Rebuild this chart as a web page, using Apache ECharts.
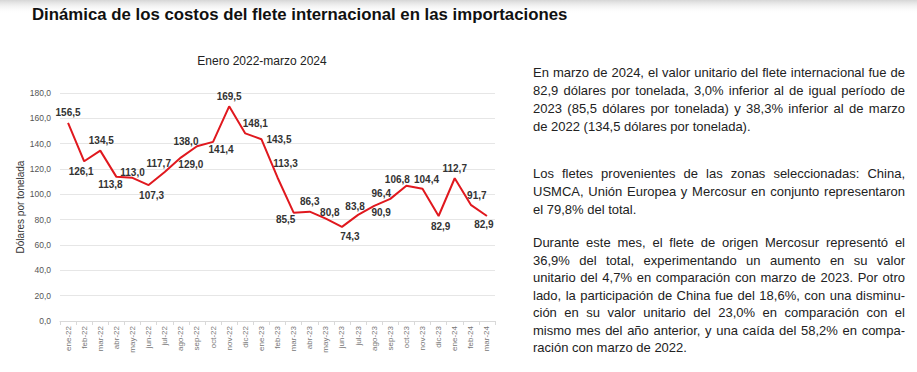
<!DOCTYPE html>
<html>
<head>
<meta charset="utf-8">
<script src="https://cdn.jsdelivr.net/npm/echarts@6/dist/echarts.min.js"></script>
<style>
  html, body { margin: 0; padding: 0; background: #fff; }
  #wrap { position: relative; width: 917px; height: 372px; overflow: hidden; }
  #chart { position: absolute; left: 0; top: 0; width: 917px; height: 372px; }
  #text { position: absolute; left: 533px; top: 64px; width: 372px;
          font-family: 'Liberation Sans', Arial, sans-serif; font-size: 13px; color: #222; }
  #text .l { white-space: nowrap; text-align: justify; text-align-last: justify; }
  #text .last { text-align-last: left; }
</style>
</head>
<body>
<div id="wrap">
  <div id="chart"></div>
  <div id="text"></div>
</div>
<script>
// ---- data ----
const months = ['ene-22','feb-22','mar-22','abr-22','may-22','jun-22','jul-22','ago-22','sep-22','oct-22','nov-22','dic-22',
                'ene-23','feb-23','mar-23','abr-23','may-23','jun-23','jul-23','ago-23','sep-23','oct-23','nov-23','dic-23',
                'ene-24','feb-24','mar-24'];
const freightValues = [156.5,126.1,134.5,113.8,113.0,107.3,117.7,129.0,138.0,141.4,169.5,148.1,
                       143.5,113.3,85.5,86.3,80.8,74.3,83.8,90.9,96.4,106.8,104.4,82.9,
                       112.7,91.7,82.9];
const yTicks = { min: 0, max: 180, interval: 20 };
const titleText = 'Dinámica de los costos del flete internacional en las importaciones';
const subtitleText = 'Enero 2022-marzo 2024';
const yAxisName = 'Dólares por tonelada';
const paragraphs = [
  ['En marzo de 2024, el valor unitario del flete internacional fue de',
   '82,9 dólares por tonelada, 3,0% inferior al de igual período de',
   '2023 (85,5 dólares por tonelada) y 38,3% inferior al de marzo',
   'de 2022 (134,5 dólares por tonelada).'],
  ['Los fletes provenientes de las zonas seleccionadas: China,',
   'USMCA, Unión Europea y Mercosur en conjunto representaron',
   'el 79,8% del total.'],
  ['Durante este mes, el flete de origen Mercosur representó el',
   '36,9% del total, experimentando un aumento en su valor',
   'unitario del 4,7% en comparación con marzo de 2023. Por otro',
   'lado, la participación de China fue del 18,6%, con una disminu-',
   'ción en su valor unitario del 23,0% en comparación con el',
   'mismo mes del año anterior, y una caída del 58,2% en compa-',
   'ración con marzo de 2022.']
];

// ---- label layout (position + offset per point) ----
const labelLayoutSpec = [
  ['top',[0,0]],['bottom',[-3,0]],['top',[1,0]],['bottom',[-6,-2]],['top',[0,4.5]],['bottom',[3,0]],
  ['top',[-6,2]],['bottom',[10,-3]],['top',[-11,5]],['bottom',[8,-2]],['top',[0,0]],['top',[10,0]],
  ['right',[0,0]],['top',[8,-4]],['bottom',[-8,-3]],['top',[0,0]],['top',[4,4]],['bottom',[8,0]],
  ['top',[-3,2]],['bottom',[7,-3]],['top',[-9,5]],['top',[-9,4]],['top',[4,1]],['bottom',[2,0]],
  ['top',[0,0]],['top',[6,1]],['bottom',[-3,-2]]
];

// ---- text column ----
const textEl = document.getElementById('text');
const paraTops = [0, 101, 170];
const paraLineHeights = [18, 18, 17.5];
paragraphs.forEach((lines, pi) => {
  const p = document.createElement('div');
  p.style.position = 'absolute';
  p.style.left = '0px';
  p.style.width = '372px';
  p.style.top = paraTops[pi] + 'px';
  lines.forEach((ln, li) => {
    const d = document.createElement('div');
    d.className = 'l' + (li === lines.length - 1 ? ' last' : '');
    d.style.height = paraLineHeights[pi] + 'px';
    d.style.lineHeight = paraLineHeights[pi] + 'px';
    d.textContent = ln;
    p.appendChild(d);
  });
  textEl.appendChild(p);
});

// ---- chart ----
const sans = "'Liberation Sans', Arial, sans-serif";
const fmt = v => Number(v).toFixed(1).replace('.', ',');
const seriesData = freightValues.map((v, i) => ({
  value: v,
  label: { position: labelLayoutSpec[i][0] }
}));

const chart = echarts.init(document.getElementById('chart'), null, { renderer: 'svg' });
chart.setOption({
  animation: false,
  backgroundColor: '#fff',
  title: {
    text: titleText,
    left: 32, top: 6, padding: 0,
    textStyle: { fontFamily: sans, fontSize: 16.8, fontWeight: 'bold', color: '#111' }
  },
  graphic: [
    {
      type: 'rect', z: -10, silent: true,
      shape: { x: 0, y: 0, width: 917, height: 14 },
      style: { fill: new echarts.graphic.LinearGradient(0, 0, 0, 1, [
        { offset: 0, color: '#d6d6d6' }, { offset: 1, color: 'rgba(255,255,255,0)' }]) }
    },
    {
      type: 'text', x: 262, y: 61,
      style: { text: subtitleText, fontFamily: sans, fontSize: 12, fill: '#222',
               textAlign: 'center', textVerticalAlign: 'middle' }
    }
  ],
  grid: { left: 60, right: 422, top: 93, bottom: 51, containLabel: false },
  xAxis: {
    type: 'category',
    data: months,
    boundaryGap: true,
    axisLine: { lineStyle: { color: '#d9d9d9' } },
    axisTick: { show: true, interval: 0, length: 4, lineStyle: { color: '#d9d9d9' } },
    axisLabel: { interval: 0, rotate: 90, margin: 5, fontFamily: sans, fontSize: 8, color: '#777' }
  },
  yAxis: {
    type: 'value',
    min: yTicks.min, max: yTicks.max, interval: yTicks.interval,
    name: yAxisName,
    nameLocation: 'middle',
    nameGap: 35,
    nameRotate: 90,
    nameTextStyle: { fontFamily: sans, fontSize: 10, color: '#333' },
    axisLine: { show: false },
    axisTick: { show: false },
    axisLabel: { formatter: fmt, fontFamily: sans, fontSize: 8.5, color: '#555', margin: 9 },
    splitLine: { lineStyle: { color: '#e6e6e6' } }
  },
  series: [{
    type: 'line',
    data: seriesData,
    symbol: 'circle',
    symbolSize: 0.1,
    showSymbol: true,
    showAllSymbol: true,
    lineStyle: { color: '#e0181e', width: 2 },
    itemStyle: { color: '#e0181e' },
    label: {
      show: true,
      formatter: p => fmt(p.value),
      fontFamily: sans, fontSize: 10, fontWeight: 'bold', color: '#333', distance: 5
    },
    labelLayout: function (params) {
      const off = labelLayoutSpec[params.dataIndex][1];
      return { dx: off[0], dy: off[1], hideOverlap: false };
    }
  }]
});
</script>
</body>
</html>
